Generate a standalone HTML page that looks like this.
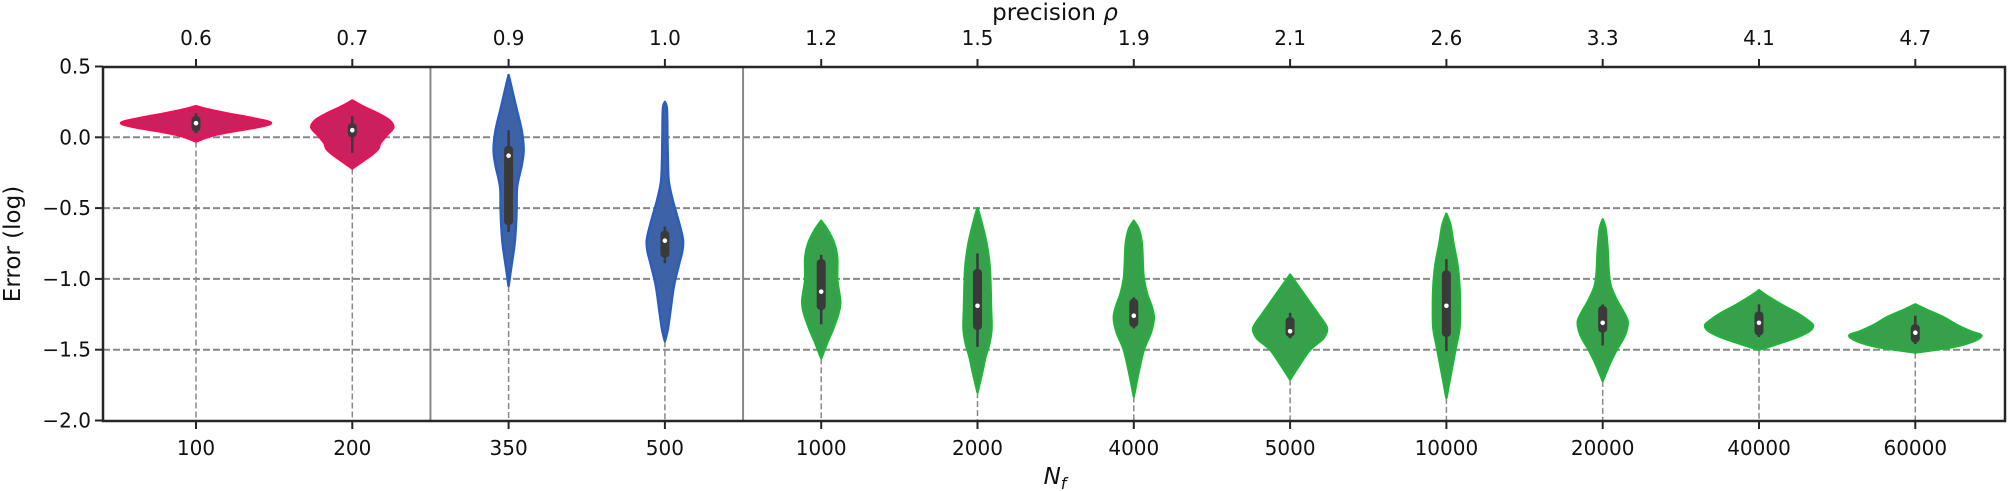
<!DOCTYPE html>
<html><head><meta charset="utf-8"><style>
html,body{margin:0;padding:0;background:#fff;}
svg{display:block;font-family:"DejaVu Sans","Liberation Sans",sans-serif;}
</style></head><body>
<svg id="s" width="2010" height="491" viewBox="0 0 2010 491" xmlns="http://www.w3.org/2000/svg">
<g id="grid"></g>
<g id="vio"></g>
<g id="ax"></g>
</svg>
<script>
const NS="http://www.w3.org/2000/svg";
const L=103,R=2005,T=67,B=421;
const Y=v=>137.3-141.6*v;
const X=i=>196+156.3*i;
function el(p,tag,a,txt){const e=document.createElementNS(NS,tag);for(const k in a)e.setAttribute(k,a[k]);if(txt!==undefined)e.textContent=txt;p.appendChild(e);return e;}
const grid=document.getElementById('grid'),vio=document.getElementById('vio'),ax=document.getElementById('ax');
const V=[
 {c:'r',p:[[0.22,0],[0.2,10],[0.17,30],[0.13,60],[0.1,75],[0.07,60],[0.04,35],[0.01,15],[-0.03,0]],b:[0.04,0.15],w:[0.03,0.17],m:0.1},
 {c:'r',p:[[0.26,0],[0.22,10],[0.17,25],[0.12,37],[0.07,41],[0.02,35],[-0.04,28],[-0.08,26],[-0.12,20],[-0.18,8],[-0.22,0]],b:[-0.0,0.1],w:[-0.11,0.15],m:0.05},
 {c:'b',p:[[0.44,0],[0.35,3],[0.2,8],[0.05,13],[-0.09,15],[-0.2,13],[-0.35,8.5],[-0.5,8],[-0.6,7.5],[-0.75,6],[-0.9,3],[-1.05,0]],b:[-0.62,-0.06],w:[-0.67,0.05],m:-0.13},
 {c:'b',p:[[0.25,0],[0.2,2],[0,2.5],[-0.2,3],[-0.32,4],[-0.45,8],[-0.6,14],[-0.72,18],[-0.8,17.5],[-0.9,14],[-1.05,9],[-1.2,6],[-1.35,3],[-1.44,0]],b:[-0.85,-0.66],w:[-0.89,-0.63],m:-0.73},
 {c:'g',p:[[-0.59,0],[-0.65,6],[-0.75,13],[-0.85,16],[-1.0,16],[-1.1,18],[-1.17,19],[-1.25,17],[-1.35,12],[-1.45,6],[-1.56,0]],b:[-1.22,-0.86],w:[-1.32,-0.83],m:-1.09},
 {c:'g',p:[[-0.5,0],[-0.6,4],[-0.75,9],[-0.9,12],[-1.05,13],[-1.2,13.5],[-1.35,14],[-1.45,12],[-1.55,8],[-1.65,5],[-1.8,0]],b:[-1.36,-0.93],w:[-1.48,-0.82],m:-1.19},
 {c:'g',p:[[-0.59,0],[-0.65,5],[-0.75,8],[-0.9,9],[-1.0,10],[-1.1,13],[-1.2,18],[-1.28,20],[-1.38,17],[-1.5,10],[-1.65,5],[-1.83,0]],b:[-1.34,-1.14],w:[-1.35,-1.13],m:-1.26},
 {c:'g',p:[[-0.97,0],[-1.05,8],[-1.15,18],[-1.25,28],[-1.32,35],[-1.36,37],[-1.42,33],[-1.5,20],[-1.6,10],[-1.71,0]],b:[-1.41,-1.27],w:[-1.42,-1.24],m:-1.37},
 {c:'g',p:[[-0.54,0],[-0.62,4],[-0.75,7],[-0.9,11],[-1.05,13],[-1.2,13.5],[-1.35,13],[-1.5,9],[-1.65,5],[-1.84,0]],b:[-1.41,-0.94],w:[-1.51,-0.86],m:-1.19},
 {c:'g',p:[[-0.58,0],[-0.65,3],[-0.8,5],[-0.95,6],[-1.05,8],[-1.15,14],[-1.25,22],[-1.31,25],[-1.4,22],[-1.5,14],[-1.6,7],[-1.72,0]],b:[-1.38,-1.19],w:[-1.47,-1.18],m:-1.31},
 {c:'g',p:[[-1.08,0],[-1.12,8],[-1.18,22],[-1.25,40],[-1.3,50],[-1.33,54],[-1.37,50],[-1.42,35],[-1.46,18],[-1.5,0]],b:[-1.4,-1.23],w:[-1.41,-1.18],m:-1.31},
 {c:'g',p:[[-1.18,0],[-1.22,12],[-1.27,28],[-1.32,40],[-1.37,55],[-1.4,66],[-1.44,58],[-1.48,38],[-1.52,0]],b:[-1.45,-1.32],w:[-1.46,-1.26],m:-1.38}
];
const COL={r:['#cc1f5e','#ee1055'],b:['#3d62a6','#2b5cc0'],g:['#37a04a','#22b23c']};
// horizontal grid
[0,-0.5,-1,-1.5].forEach(v=>el(grid,'line',{x1:L,x2:R,y1:Y(v),y2:Y(v),stroke:'#888','stroke-width':2,'stroke-dasharray':'7,3'}));
// separators
[1.5,3.5].forEach(i=>el(grid,'line',{x1:X(i),x2:X(i),y1:T,y2:B,stroke:'#888','stroke-width':2}));
function smooth(pts){ // catmull-rom
 let d='M'+pts[0][0]+','+pts[0][1];
 for(let i=0;i<pts.length-1;i++){const p0=pts[Math.max(0,i-1)],p1=pts[i],p2=pts[i+1],p3=pts[Math.min(pts.length-1,i+2)];
  const c1=[p1[0]+(p2[0]-p0[0])/6,p1[1]+(p2[1]-p0[1])/6],c2=[p2[0]-(p3[0]-p1[0])/6,p2[1]-(p3[1]-p1[1])/6];
  d+=`C${c1[0].toFixed(1)},${c1[1].toFixed(1)} ${c2[0].toFixed(1)},${c2[1].toFixed(1)} ${p2[0].toFixed(1)},${p2[1].toFixed(1)}`;}
 return d;}
V.forEach((v,i)=>{
 const cx=X(i);
 const bot=v.p[v.p.length-1][0];
 el(grid,'line',{x1:cx,x2:cx,y1:Y(bot),y2:B,stroke:'#888','stroke-width':1.5,'stroke-dasharray':'6,3'});
 const right=v.p.map(q=>[cx+q[1],Y(q[0])]);
 const left=v.p.slice().reverse().map(q=>[cx-q[1],Y(q[0])]);
 const d=smooth(right)+smooth(left).replace(/^M[^C]*/,'')+'Z';
 const c=COL[v.c];
 el(vio,'path',{d:d,fill:c[0],stroke:c[1],'stroke-width':2.5,'stroke-linejoin':'round'});
 el(vio,'line',{x1:cx,x2:cx,y1:Y(v.w[1]),y2:Y(v.w[0]),stroke:'#3a3a3a','stroke-width':2.5});
 el(vio,'rect',{x:cx-4.5,y:Y(v.b[1]),width:9,height:Y(v.b[0])-Y(v.b[1]),rx:4,fill:'#3a3a3a'});
 el(vio,'circle',{cx:cx,cy:Y(v.m),r:2.3,fill:'#fff'});
});
// axes
el(ax,'rect',{x:L,y:T,width:R-L,height:B-T,fill:'none',stroke:'#262626','stroke-width':2.5});
const nf=['100','200','350','500','1000','2000','4000','5000','10000','20000','40000','60000'];
const rho=['0.6','0.7','0.9','1.0','1.2','1.5','1.9','2.1','2.6','3.3','4.1','4.7'];
nf.forEach((t,i)=>{const x=X(i);
 el(ax,'line',{x1:x,x2:x,y1:B,y2:B+8,stroke:'#262626','stroke-width':2});
 el(ax,'line',{x1:x,x2:x,y1:T,y2:T-8,stroke:'#262626','stroke-width':2});
 el(ax,'text',{x:x,y:455,'text-anchor':'middle','font-size':20,fill:'#111'},t);
 el(ax,'text',{x:x,y:45,'text-anchor':'middle','font-size':20,fill:'#111'},rho[i]);
});
[['0.5',0.5],['0.0',0],['\u22120.5',-0.5],['\u22121.0',-1],['\u22121.5',-1.5],['\u22122.0',-2]].forEach(([t,v])=>{
 el(ax,'line',{x1:L,x2:L-8,y1:Y(v),y2:Y(v),stroke:'#262626','stroke-width':2});
 el(ax,'text',{x:L-12,y:Y(v)+7,'text-anchor':'end','font-size':20,fill:'#111'},t);
});
const yl=el(ax,'text',{x:0,y:0,'text-anchor':'middle','font-size':23,fill:'#111',transform:'translate(20,244) rotate(-90)'},'Error (log)');
const xl=el(ax,'text',{x:1055,y:484,'text-anchor':'middle','font-size':23,fill:'#111'});
const t1=el(xl,'tspan',{'font-style':'italic'},'N');const t2=el(xl,'tspan',{'font-style':'italic','font-size':16,dy:5},'f');
const tl=el(ax,'text',{x:1055,y:20,'text-anchor':'middle','font-size':23,fill:'#111'},'precision ');
el(tl,'tspan',{'font-style':'italic'},'\u03c1');
</script>
</body></html>
